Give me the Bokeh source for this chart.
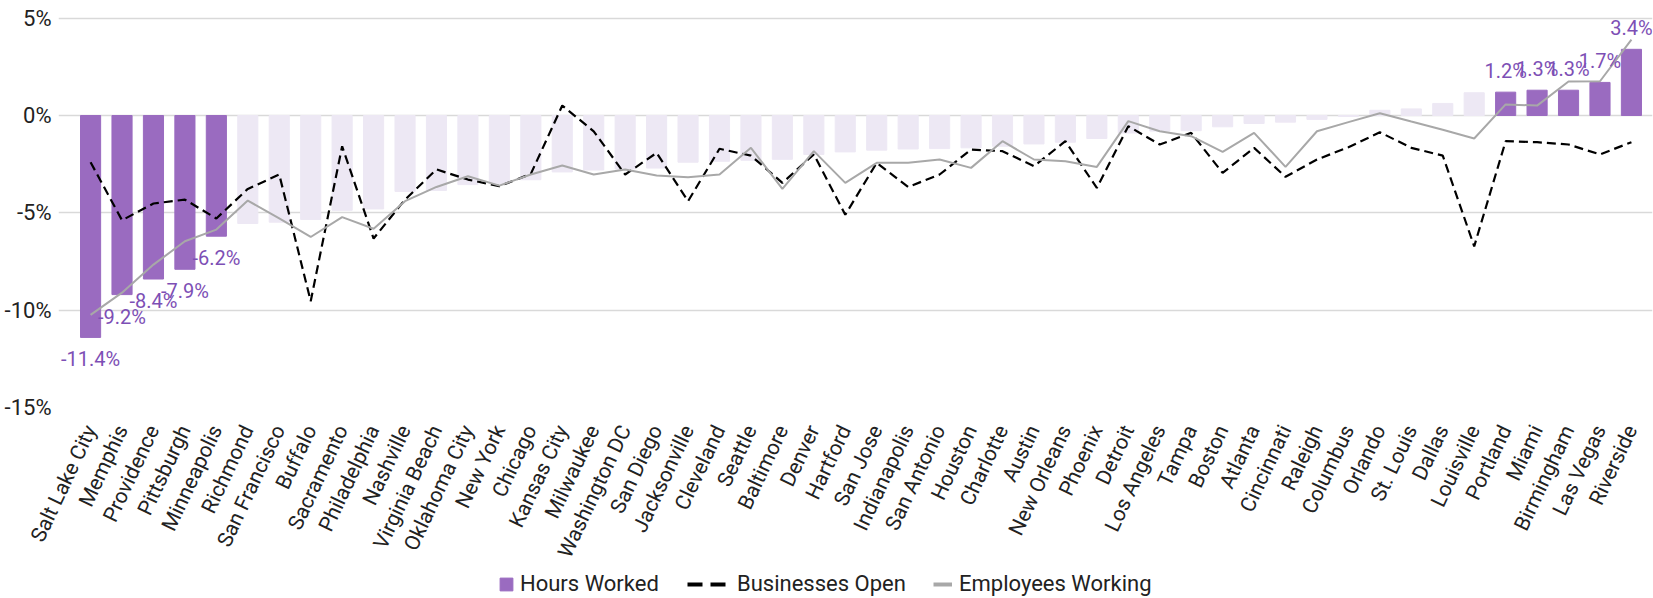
from bokeh.plotting import figure
from bokeh.layouts import column
from bokeh.models import (Range1d, FixedTicker, Legend, LegendItem, ColumnDataSource,
                          LabelSet, CustomJSTickFormatter)
from bokeh.core.properties import value
from bokeh.embed import file_html
from bokeh.resources import INLINE

cities = ["Salt Lake City", "Memphis", "Providence", "Pittsburgh", "Minneapolis", "Richmond",
          "San Francisco", "Buffalo", "Sacramento", "Philadelphia", "Nashville", "Virginia Beach",
          "Oklahoma City", "New York", "Chicago", "Kansas City", "Milwaukee", "Washington DC",
          "San Diego", "Jacksonville", "Cleveland", "Seattle", "Baltimore", "Denver", "Hartford",
          "San Jose", "Indianapolis", "San Antonio", "Houston", "Charlotte", "Austin",
          "New Orleans", "Phoenix", "Detroit", "Los Angeles", "Tampa", "Boston", "Atlanta",
          "Cincinnati", "Raleigh", "Columbus", "Orlando", "St. Louis", "Dallas", "Louisville",
          "Portland", "Miami", "Birmingham", "Las Vegas", "Riverside"]

hours_worked = [-11.4, -9.2, -8.4, -7.9, -6.2, -5.55, -5.48, -5.34, -4.87, -4.8,
                -3.9, -3.85, -3.55, -3.5, -3.3, -2.9, -2.8, -2.75, -2.7, -2.4,
                -2.35, -2.3, -2.25, -2.0, -1.87, -1.78, -1.72, -1.7, -1.66, -1.58,
                -1.46, -1.37, -1.18, -0.9, -0.8, -0.78, -0.58, -0.41, -0.34, -0.2,
                -0.05, 0.27, 0.34, 0.62, 1.17, 1.2, 1.3, 1.3, 1.7, 3.4]

businesses_open = [-2.4, -5.38, -4.52, -4.32, -5.29, -3.77, -3.03, -9.54, -1.58, -6.32,
                   -4.32, -2.77, -3.29, -3.63, -3.0, 0.51, -0.81, -3.03, -1.92, -4.4,
                   -1.71, -2.06, -3.46, -2.0, -5.1, -2.43, -3.67, -3.03, -1.75, -1.83,
                   -2.6, -1.32, -3.72, -0.55, -1.49, -0.89, -2.95, -1.66, -3.15, -2.26,
                   -1.63, -0.86, -1.66, -2.06, -6.72, -1.32, -1.37, -1.49, -2.0, -1.37]

employees_working = [-10.24, -9.1, -7.66, -6.46, -5.86, -4.37, -5.29, -6.24, -5.22, -5.82,
                     -4.4, -3.67, -3.12, -3.6, -3.03, -2.57, -3.03, -2.77, -3.08, -3.17,
                     -3.03, -1.66, -3.77, -1.83, -3.46, -2.43, -2.43, -2.26, -2.69, -1.32,
                     -2.26, -2.35, -2.64, -0.29, -0.81, -1.06, -1.87, -0.89, -2.64, -0.81,
                     -0.34, 0.12, -0.31, -0.73, -1.18, 0.57, 0.51, 1.75, 1.76, 3.9]

y_ticks = [-15, -10, -5, 0, 5]
legend_labels = ["Hours Worked", "Businesses Open", "Employees Working"]

DARK = "#9a6bc0"
LIGHT = "#ede8f4"
LABEL = "#7d4fb5"
GRAY = "#a8a8a8"
FONT = "Roboto"

n = len(cities)
xs = list(range(n))
n_hi = 5
highlight = [i < n_hi or i >= n - n_hi for i in xs]
colors = [DARK if h else LIGHT for h in highlight]

src = ColumnDataSource(dict(x=xs, hw=hours_worked, bo=businesses_open, ew=employees_working,
                            color=colors))

neg_idx = [i for i in xs if highlight[i] and hours_worked[i] < 0]
pos_idx = [i for i in xs if highlight[i] and hours_worked[i] >= 0]
neg_src = ColumnDataSource(dict(x=neg_idx, y=[hours_worked[i] for i in neg_idx],
                                t=["%.1f%%" % hours_worked[i] for i in neg_idx]))
pos_src = ColumnDataSource(dict(x=pos_idx, y=[hours_worked[i] for i in pos_idx],
                                t=["%.1f%%" % hours_worked[i] for i in pos_idx]))

# ---------------- main chart ----------------
p = figure(frame_width=1594, frame_height=401, output_backend="svg", toolbar_location=None,
           x_range=Range1d(-1.02, n - 1 + 0.67), y_range=Range1d(-15, 5.6),
           min_border_left=58, min_border_right=1, min_border_top=6, min_border_bottom=165)
p.outline_line_color = None
p.background_fill_color = "white"
p.border_fill_color = "white"

p.vbar(x="x", top="hw", bottom=0, width=0.64, color="color", source=src)
p.line("x", "bo", source=src, line_color="black", line_width=2.2, line_dash="9 5")
p.line("x", "ew", source=src, line_color=GRAY, line_width=2)

p.add_layout(LabelSet(x="x", y="y", text="t", source=neg_src, text_align="center",
                      text_baseline="middle", y_offset=-22, text_color=LABEL,
                      text_font=value(FONT), text_font_size="20px"))
p.add_layout(LabelSet(x="x", y="y", text="t", source=pos_src, text_align="center",
                      text_baseline="middle", y_offset=21, text_color=LABEL,
                      text_font=value(FONT), text_font_size="20px"))

# y axis
p.yaxis.ticker = FixedTicker(ticks=y_ticks)
p.yaxis.formatter = CustomJSTickFormatter(code="return tick + '%';")
p.yaxis.axis_line_color = None
p.yaxis.major_tick_line_color = None
p.yaxis.minor_tick_line_color = None
p.yaxis.major_label_text_font = FONT
p.yaxis.major_label_text_font_size = "22px"
p.yaxis.major_label_text_color = "#222222"
p.yaxis.major_label_standoff = 1

p.ygrid.ticker = FixedTicker(ticks=y_ticks)
p.ygrid.grid_line_color = "#d9d9d9"
p.ygrid.grid_line_width = 1.5
p.xgrid.grid_line_color = None

# x axis
p.xaxis.ticker = FixedTicker(ticks=xs)
p.xaxis.major_label_overrides = {i: c for i, c in enumerate(cities)}
p.xaxis.major_label_orientation = 1.13
p.xaxis.axis_line_color = None
p.xaxis.major_tick_line_color = None
p.xaxis.minor_tick_line_color = None
p.xaxis.major_label_text_font = FONT
p.xaxis.major_label_text_font_size = "21px"
p.xaxis.major_label_text_color = "#222222"
p.xaxis.major_label_standoff = 13

# ---------------- legend strip ----------------
lg = figure(frame_width=1653, frame_height=26, output_backend="svg", toolbar_location=None,
            x_axis_type=None, y_axis_type=None, x_range=Range1d(0, 1), y_range=Range1d(0, 1),
            min_border=0)
lg.outline_line_color = None
lg.grid.visible = False

# hidden proxies that only supply the legend glyph styles
leg_bar = lg.vbar(x="x", top="hw", width=0.6, color=DARK, source=src, visible=False)
leg_bo = lg.line("x", "bo", source=src, line_color="black", line_width=4, line_dash="15 8",
                 visible=False)
leg_ew = lg.line("x", "ew", source=src, line_color=GRAY, line_width=4, visible=False)

leg_common = dict(orientation="horizontal", label_text_font=FONT, label_text_font_size="22px",
                  label_text_color="#222222", border_line_color=None, background_fill_alpha=0,
                  margin=0, padding=0, glyph_height=16, label_height=16)
lg.add_layout(Legend(items=[LegendItem(label=legend_labels[0], renderers=[leg_bar], index=0)],
                     location=(498, 2), glyph_width=16, label_standoff=6, **leg_common))
lg.add_layout(Legend(items=[LegendItem(label=legend_labels[1], renderers=[leg_bo], index=0)],
                     location=(687, 2), glyph_width=40, label_standoff=10, **leg_common))
lg.add_layout(Legend(items=[LegendItem(label=legend_labels[2], renderers=[leg_ew], index=0)],
                     location=(933, 2), glyph_width=19, label_standoff=7, **leg_common))

open("out.html", "w").write(file_html(column(p, lg), INLINE))
